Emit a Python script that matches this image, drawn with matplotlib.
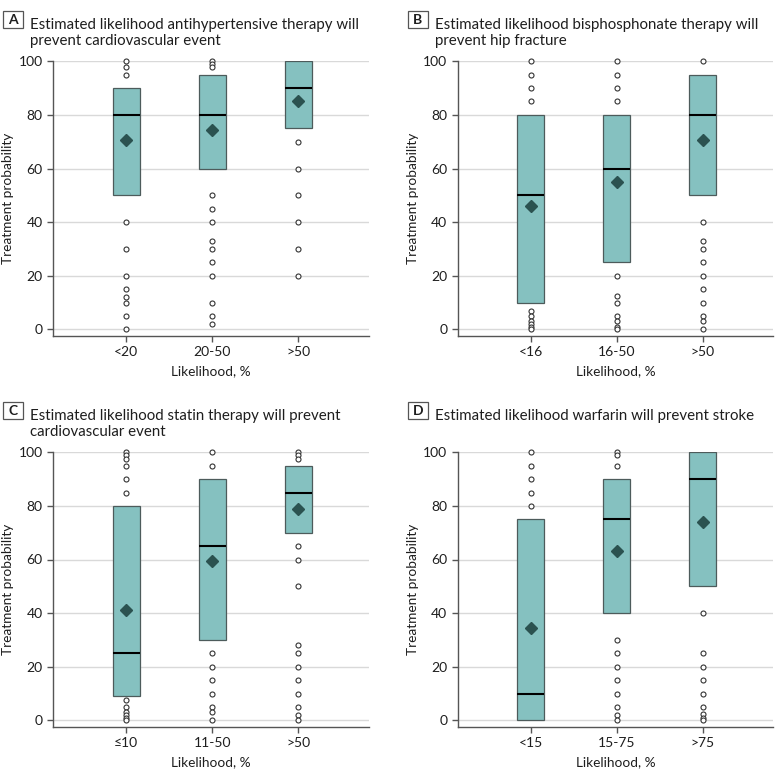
import matplotlib
matplotlib.use("Agg")
import matplotlib.pyplot as plt
from matplotlib.patches import Rectangle

plt.rcParams['font.family'] = ['Lato', 'DejaVu Sans']

# panel A: antihypertensive therapy
a_cats = ['<20', '20-50', '>50']
a_q1 = [50, 60, 75]
a_med = [80, 80, 90]
a_q3 = [90, 95, 100]
a_mean = [70.5, 74.5, 85]
a_out = [
    [100, 98, 95, 40, 30, 20, 15, 12, 10, 5, 0],
    [100, 99, 98, 50, 45, 40, 33, 30, 25, 20, 10, 5, 2],
    [70, 60, 50, 40, 30, 20],
]

# panel B: bisphosphonate therapy
b_cats = ['<16', '16-50', '>50']
b_q1 = [10, 25, 50]
b_med = [50, 60, 80]
b_q3 = [80, 80, 95]
b_mean = [46, 55, 70.5]
b_out = [
    [100, 95, 90, 85, 7, 5, 3, 2, 1, 0],
    [100, 95, 90, 85, 20, 12.5, 10, 5, 3, 1, 0],
    [100, 40, 33, 30, 25, 20, 15, 10, 5, 3, 0],
]

# panel C: statin therapy
c_cats = ['≤10', '11-50', '>50']
c_q1 = [9, 30, 70]
c_med = [25, 65, 85]
c_q3 = [80, 90, 95]
c_mean = [41, 59.5, 78.8]
c_out = [
    [100, 99, 97.5, 95, 90, 85, 7.5, 5, 3, 2, 1, 0],
    [100, 95, 25, 20, 15, 10, 5, 3, 0],
    [100, 99, 97.5, 65, 60, 50, 28, 25, 20, 15, 10, 5, 2, 0],
]

# panel D: warfarin
d_cats = ['<15', '15-75', '>75']
d_q1 = [0, 40, 50]
d_med = [10, 75, 90]
d_q3 = [75, 90, 100]
d_mean = [34.5, 63, 74]
d_out = [
    [100, 95, 90, 85, 80],
    [100, 99, 95, 30, 25, 20, 15, 10, 5, 2, 0],
    [40, 25, 20, 15, 10, 5, 2.5, 1, 0],
]

panels = [
    ('A', 'Estimated likelihood antihypertensive therapy will\nprevent cardiovascular event',
     a_cats, a_q1, a_med, a_q3, a_mean, a_out),
    ('B', 'Estimated likelihood bisphosphonate therapy will\nprevent hip fracture',
     b_cats, b_q1, b_med, b_q3, b_mean, b_out),
    ('C', 'Estimated likelihood statin therapy will prevent\ncardiovascular event',
     c_cats, c_q1, c_med, c_q3, c_mean, c_out),
    ('D', 'Estimated likelihood warfarin will prevent stroke',
     d_cats, d_q1, d_med, d_q3, d_mean, d_out),
]

W, H = 780, 782
fig = plt.figure(figsize=(W / 100, H / 100), dpi=100)

# axes rectangles in pixels: left, top(y=100), right, bottom spine
rects = [(53, 61.3, 369, 336), (457.7, 61.3, 773, 336),
         (53, 452.3, 369, 727), (457.7, 452.3, 773, 727)]

box_fill = '#85c1c0'
box_edge = '#4d5b5b'
mean_col = '#2b5250'
spine_col = '#555555'
txt_col = '#1e1e1e'


def px(x, y):
    return x / W, 1 - y / H


for (letter, title, cats, q1, med, q3, mean, out), (l, t, r, b) in zip(panels, rects):
    ax = fig.add_axes([l / W, 1 - b / H, (r - l) / W, (b - t) / H])
    stats = []
    for i in range(len(cats)):
        stats.append(dict(q1=q1[i], med=med[i], q3=q3[i], mean=mean[i],
                          whislo=q1[i], whishi=q3[i], fliers=out[i], label=cats[i]))
    bp = ax.bxp(stats, positions=[1, 2, 3], widths=0.31, patch_artist=True,
                showmeans=True, showcaps=False,
                boxprops=dict(facecolor=box_fill, edgecolor=box_edge, linewidth=0.9),
                medianprops=dict(color='black', linewidth=1.5),
                whiskerprops=dict(linewidth=0),
                meanprops=dict(marker='D', markersize=6.5, markerfacecolor=mean_col,
                               markeredgecolor=mean_col),
                flierprops=dict(marker='o', markersize=3.6, markerfacecolor='white',
                                markeredgecolor='#333333', markeredgewidth=0.8))
    for f in bp['fliers']:
        f.set_clip_on(False)
        f.set_zorder(4)
    for m in bp['means']:
        m.set_zorder(5)

    ax.set_xlim(0.15, 3.82)
    ax.set_ylim(-2.5, 100)
    ax.set_yticks([0, 20, 40, 60, 80, 100])
    ax.yaxis.grid(True, color='#d9d9d9', linewidth=1)
    ax.set_axisbelow(True)
    for s in ['top', 'right']:
        ax.spines[s].set_visible(False)
    for s in ['left', 'bottom']:
        ax.spines[s].set_color(spine_col)
        ax.spines[s].set_linewidth(1)
    ax.tick_params(axis='both', colors=spine_col, length=4, width=1,
                   labelcolor=txt_col, labelsize=10)
    ax.set_ylabel('Treatment probability', fontsize=9.8, color=txt_col, labelpad=3)
    ax.set_xlabel('Likelihood, %', fontsize=9.8, color=txt_col, labelpad=5)

    # panel letter box and title
    fig.patches.append(Rectangle(px(l - 50, t - 33.3), 20 / W, 17 / H,
                                 transform=fig.transFigure, facecolor='white',
                                 edgecolor='#555555', linewidth=0.9))
    x0, y0 = px(l - 40, t - 41.5)
    fig.text(x0, y0, letter, fontsize=10, fontweight='bold', va='center', ha='center',
             color=txt_col)
    x1, y1 = px(l - 23, t - 43)
    fig.text(x1, y1, title, fontsize=10.8, va='top', ha='left',
             color=txt_col, linespacing=1.12)

fig.savefig('out.png', dpi=100)
